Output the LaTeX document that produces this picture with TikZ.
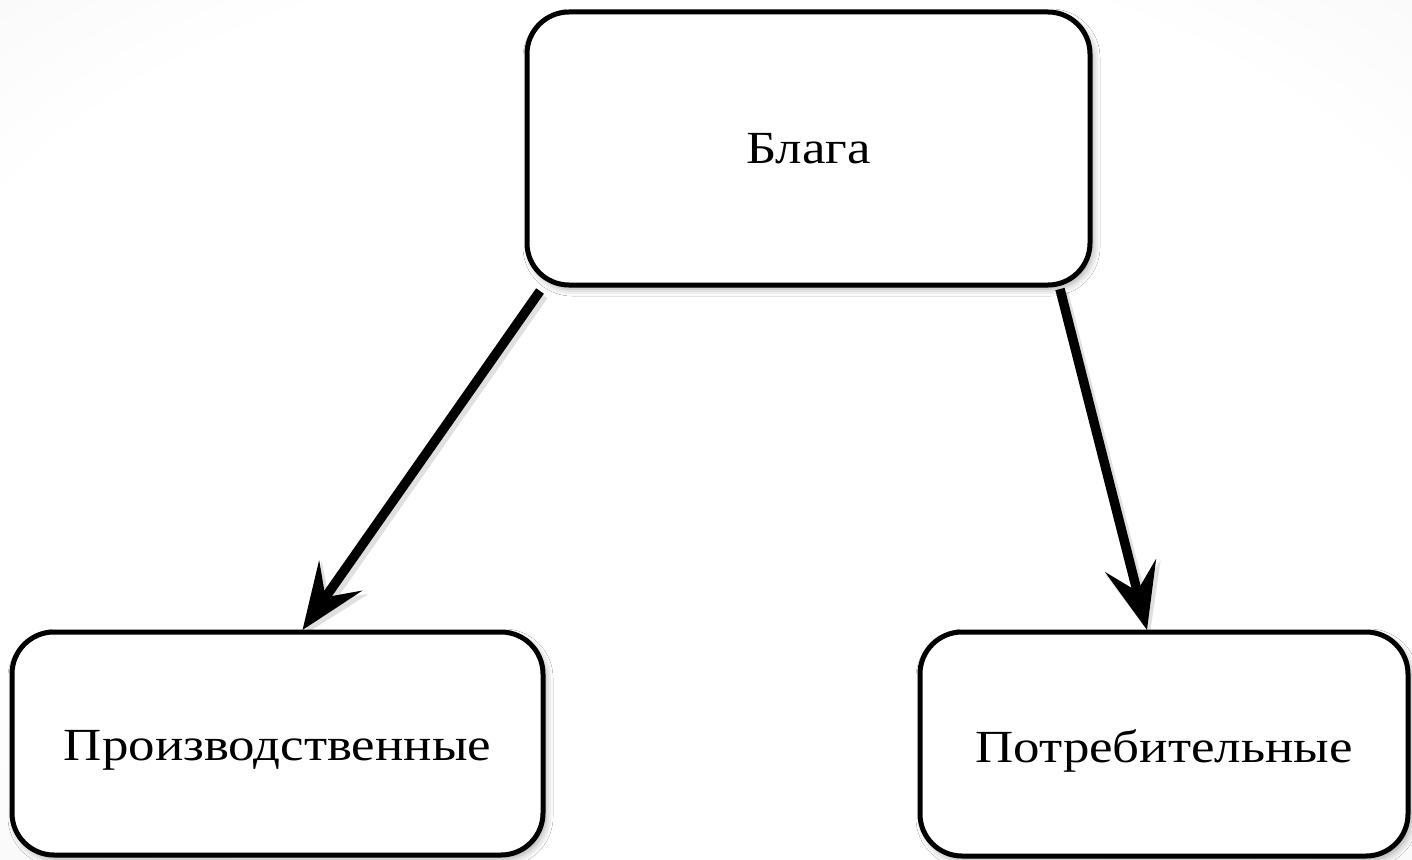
\documentclass[tikz,border=0pt]{standalone}
\usepackage{fontspec}
\setmainfont[FakeStretch=1.15]{Liberation Serif}
\usetikzlibrary{arrows.meta,shadows.blur}
\pgfdeclareradialshading{bgshade}{\pgfpoint{0bp}{0bp}}{color(0bp)=(white); color(28bp)=(white); color(50bp)=(black!6)}
\tikzset{
  box/.style={draw=black, line width=5pt, rounded corners=42pt, fill=white,
    inner sep=0pt, outer sep=0pt, font=\fontsize{46}{52}\selectfont,
    blur shadow={shadow xshift=3pt, shadow yshift=-4pt, shadow blur radius=7pt, shadow opacity=35}},
  link/.style={line width=9.5pt, -{Stealth[length=66pt, width=52pt, inset=26pt]}},
  linkshadow/.style={line width=11pt, draw=black, opacity=0.12, -{Stealth[length=68pt, width=56pt, inset=26pt]}}
}
\begin{document}
\begin{tikzpicture}[x=1pt,y=-1pt]
\useasboundingbox (0,0) rectangle (1412,859);
\shade[shading=bgshade] (0,0) rectangle (1412,859);

\node[box, minimum width=563pt, minimum height=273pt] (top) at (808.5,148.5) {Блага};
\node[box, minimum width=531pt, minimum height=223pt] (left) at (277.5,743.5) {\raisebox{-7pt}[\height][\depth]{Производственные}};
\node[box, minimum width=488pt, minimum height=224pt] (right) at (1164,744) {\raisebox{-7pt}[\height][\depth]{Потребительные}};

\coordinate (a1) at ([xshift=13pt,yshift=-6pt]top.south west);
\coordinate (b1) at ([xshift=25pt,yshift=2pt]left.north);
\coordinate (a2) at ([xshift=-30pt,yshift=-4pt]top.south east);
\coordinate (b2) at ([xshift=-17pt,yshift=2pt]right.north);

\begin{scope}[transform canvas={shift={(3pt,-4pt)}}]
\draw[linkshadow] (a1) -- (b1);
\draw[linkshadow] (a2) -- (b2);
\end{scope}
\draw[link] (a1) -- (b1);
\draw[link] (a2) -- (b2);
\end{tikzpicture}
\end{document}
